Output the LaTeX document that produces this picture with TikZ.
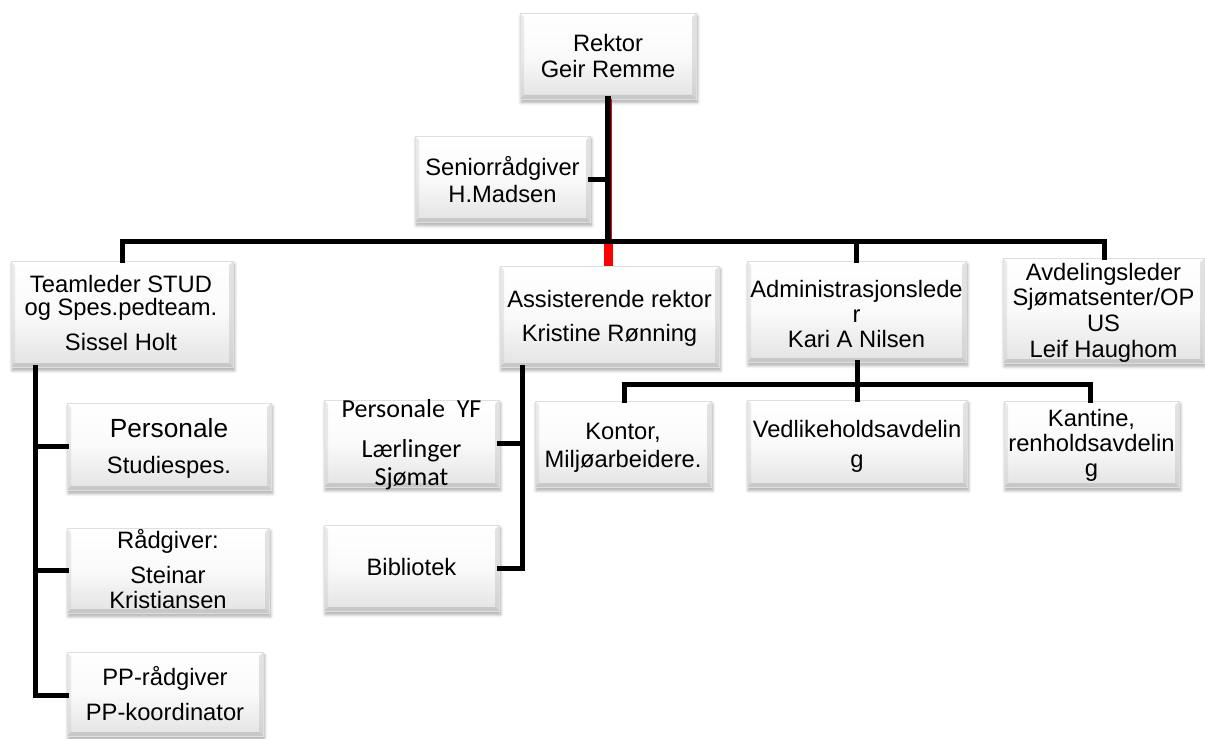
\documentclass[tikz,border=0pt]{standalone}
\usepackage{fontspec}
\setmainfont{Liberation Sans}
\newfontfamily\calfont{Carlito}
\usetikzlibrary{shadows.blur}
\tikzset{
  obox/.style={draw=gray!25, line width=0.4pt, top color=white, bottom color=gray!22,
    middle color=gray!4,
    blur shadow={shadow blur steps=6, shadow xshift=1pt, shadow yshift=-2.5pt, shadow opacity=35, shadow blur radius=2.5pt},
    inner sep=0pt,
    path picture={
      \coordinate (bsw) at (path picture bounding box.south west);
      \coordinate (bse) at (path picture bounding box.south east);
      \coordinate (bnw) at (path picture bounding box.north west);
      \coordinate (bne) at (path picture bounding box.north east);
      \fill[gray!70, opacity=0.45] (bsw) -- (bse) -- ([shift={(-3pt,3pt)}]bse) -- ([shift={(3pt,3pt)}]bsw) -- cycle;
      \fill[gray!45, opacity=0.35] (bsw) -- (bnw) -- ([shift={(3pt,-3pt)}]bnw) -- ([shift={(3pt,3pt)}]bsw) -- cycle;
      \fill[gray!55, opacity=0.4] (bse) -- (bne) -- ([shift={(-3pt,-3pt)}]bne) -- ([shift={(-3pt,3pt)}]bse) -- cycle;
      \fill[white, opacity=0.6] (bnw) -- (bne) -- ([shift={(-3pt,-3pt)}]bne) -- ([shift={(3pt,-3pt)}]bnw) -- cycle;
    }},
  txt/.style={anchor=base, align=center, inner sep=0pt,
    font=\fontsize{17.8}{18.75}\selectfont},
  conn/.style={line width=3.75pt, line cap=rect},
}
\newcommand\orgbox[5]{\node[obox, minimum width=#4*0.75pt, minimum height=#5*0.75pt] (#1) at (#2,#3) {};}
\begin{document}
\begin{tikzpicture}[x=0.75pt,y=-0.75pt]
\useasboundingbox (0,0) rectangle (1205,738);
% boxes
\orgbox{rek}{608}{56}{176}{86}
\orgbox{sen}{502.5}{179}{175}{86}
\orgbox{team}{122}{314}{222}{106}
\orgbox{ass}{609.5}{316.5}{219}{101}
\orgbox{adm}{856.5}{311.5}{219}{101}
\orgbox{avd}{1103.5}{310.5}{201}{105}
\orgbox{kon}{623}{444}{176}{86}
\orgbox{ved}{857}{443.5}{220}{87}
\orgbox{kan}{1091.5}{444}{175}{86}
\orgbox{pyf}{411.5}{443.5}{175}{87}
\orgbox{bib}{411.5}{568}{175}{86}
\orgbox{per}{169}{446.5}{204}{87}
\orgbox{rad}{168}{570.5}{202}{85}
\orgbox{ppr}{165}{694}{196}{84}
% connectors
\coordinate (top) at (608.5,241.5);
\coordinate (hl) at (122,241.5);
\coordinate (hr) at (1104,241.5);
\draw[red, line width=5pt] (rek.south -| top) -- (top);
\draw[red, line width=6.75pt] (top) -- (ass.north -| top);
\draw[conn, line width=4.4pt] ([xshift=-0.3pt]rek.south -| top) -- ([xshift=-0.3pt]top);
\draw[conn] (hl) -- (hr);
\draw[conn] (hl) -- (team.north -| hl);
\draw[conn] (hr) -- (avd.north -| hr);
\draw[conn] (adm.north |- top) -- (adm.north);
\draw[conn] (sen.east) -- (sen.east -| top);
% team branch
\coordinate (tv) at (35,695);
\draw[conn] (team.south -| tv) -- (tv);
\draw[conn] (per.west -| tv) -- (per.west);
\draw[conn] (rad.west -| tv) -- (rad.west);
\draw[conn] (tv) -- (ppr.west |- tv);
% assistant branch
\coordinate (av) at (522,568);
\coordinate (ay) at (522,443);
\draw[conn] (ass.south -| av) -- (av);
\draw[conn] (pyf.east |- ay) -- (ay);
\draw[conn] (av) -- (bib.east |- av);
% admin branch
\coordinate (ah) at (857,384);
\coordinate (al) at (624,384);
\coordinate (ar) at (1090,384);
\draw[conn] (adm.south -| ah) -- (ah);
\draw[conn] (al) -- (ar);
\draw[conn] (al) -- (kon.north -| al);
\draw[conn] (ah) -- (ved.north -| ah);
\draw[conn] (ar) -- (kan.north -| ar);
% texts (anchored at the baseline of the last line)
\node[txt] (rekT) at (608,78) {Rektor\\[0.75pt]Geir Remme};
\node[txt] (senT) at (502.5,202) {Seniorrådgiver\\[1.5pt]H.Madsen};
\node[txt] (teamT) at (121,350) {Teamleder STUD\\[-1.5pt]og Spes.pedteam.\\[7.5pt]Sissel Holt};
\node[txt] (assT) at (609.5,341) {Assisterende rektor\\[6.75pt]Kristine Rønning};
\node[txt] (admT) at (856.5,347) {Administrasjonslede\\r\\Kari A Nilsen};
\node[txt] (avdT) at (1103.5,357) {Avdelingsleder\\[0.5pt]Sjømatsenter/OP\\[0.5pt]US\\[0.5pt]Leif Haughom};
\node[txt] (konT) at (623,467) {Kontor,\\[2.25pt]Miljøarbeidere.};
\node[txt] (vedT) at (857,467) {Vedlikeholdsavdelin\\[3.75pt]g};
\node[txt] (kanT) at (1091.5,476) {Kantine,\\renholdsavdelin\\g};
\node[txt, font=\calfont\fontsize{19.5}{18.75}\selectfont] (pyfT) at (411.5,485) {Personale\ \ YF\\[11.25pt]Lærlinger\\[2.25pt]Sjømat};
\node[txt] (bibT) at (411.5,575) {Bibliotek};
\node[txt] (perT) at (169,473) {{\fontsize{19.7}{18.75}\selectfont Personale}\\[8.25pt]Studiespes.};
\node[txt] (radT) at (168,608) {Rådgiver:\\[7.5pt]Steinar\\Kristiansen};
\node[txt] (pprT) at (165,720) {PP-rådgiver\\[7.5pt]PP-koordinator};
\end{tikzpicture}
\end{document}
